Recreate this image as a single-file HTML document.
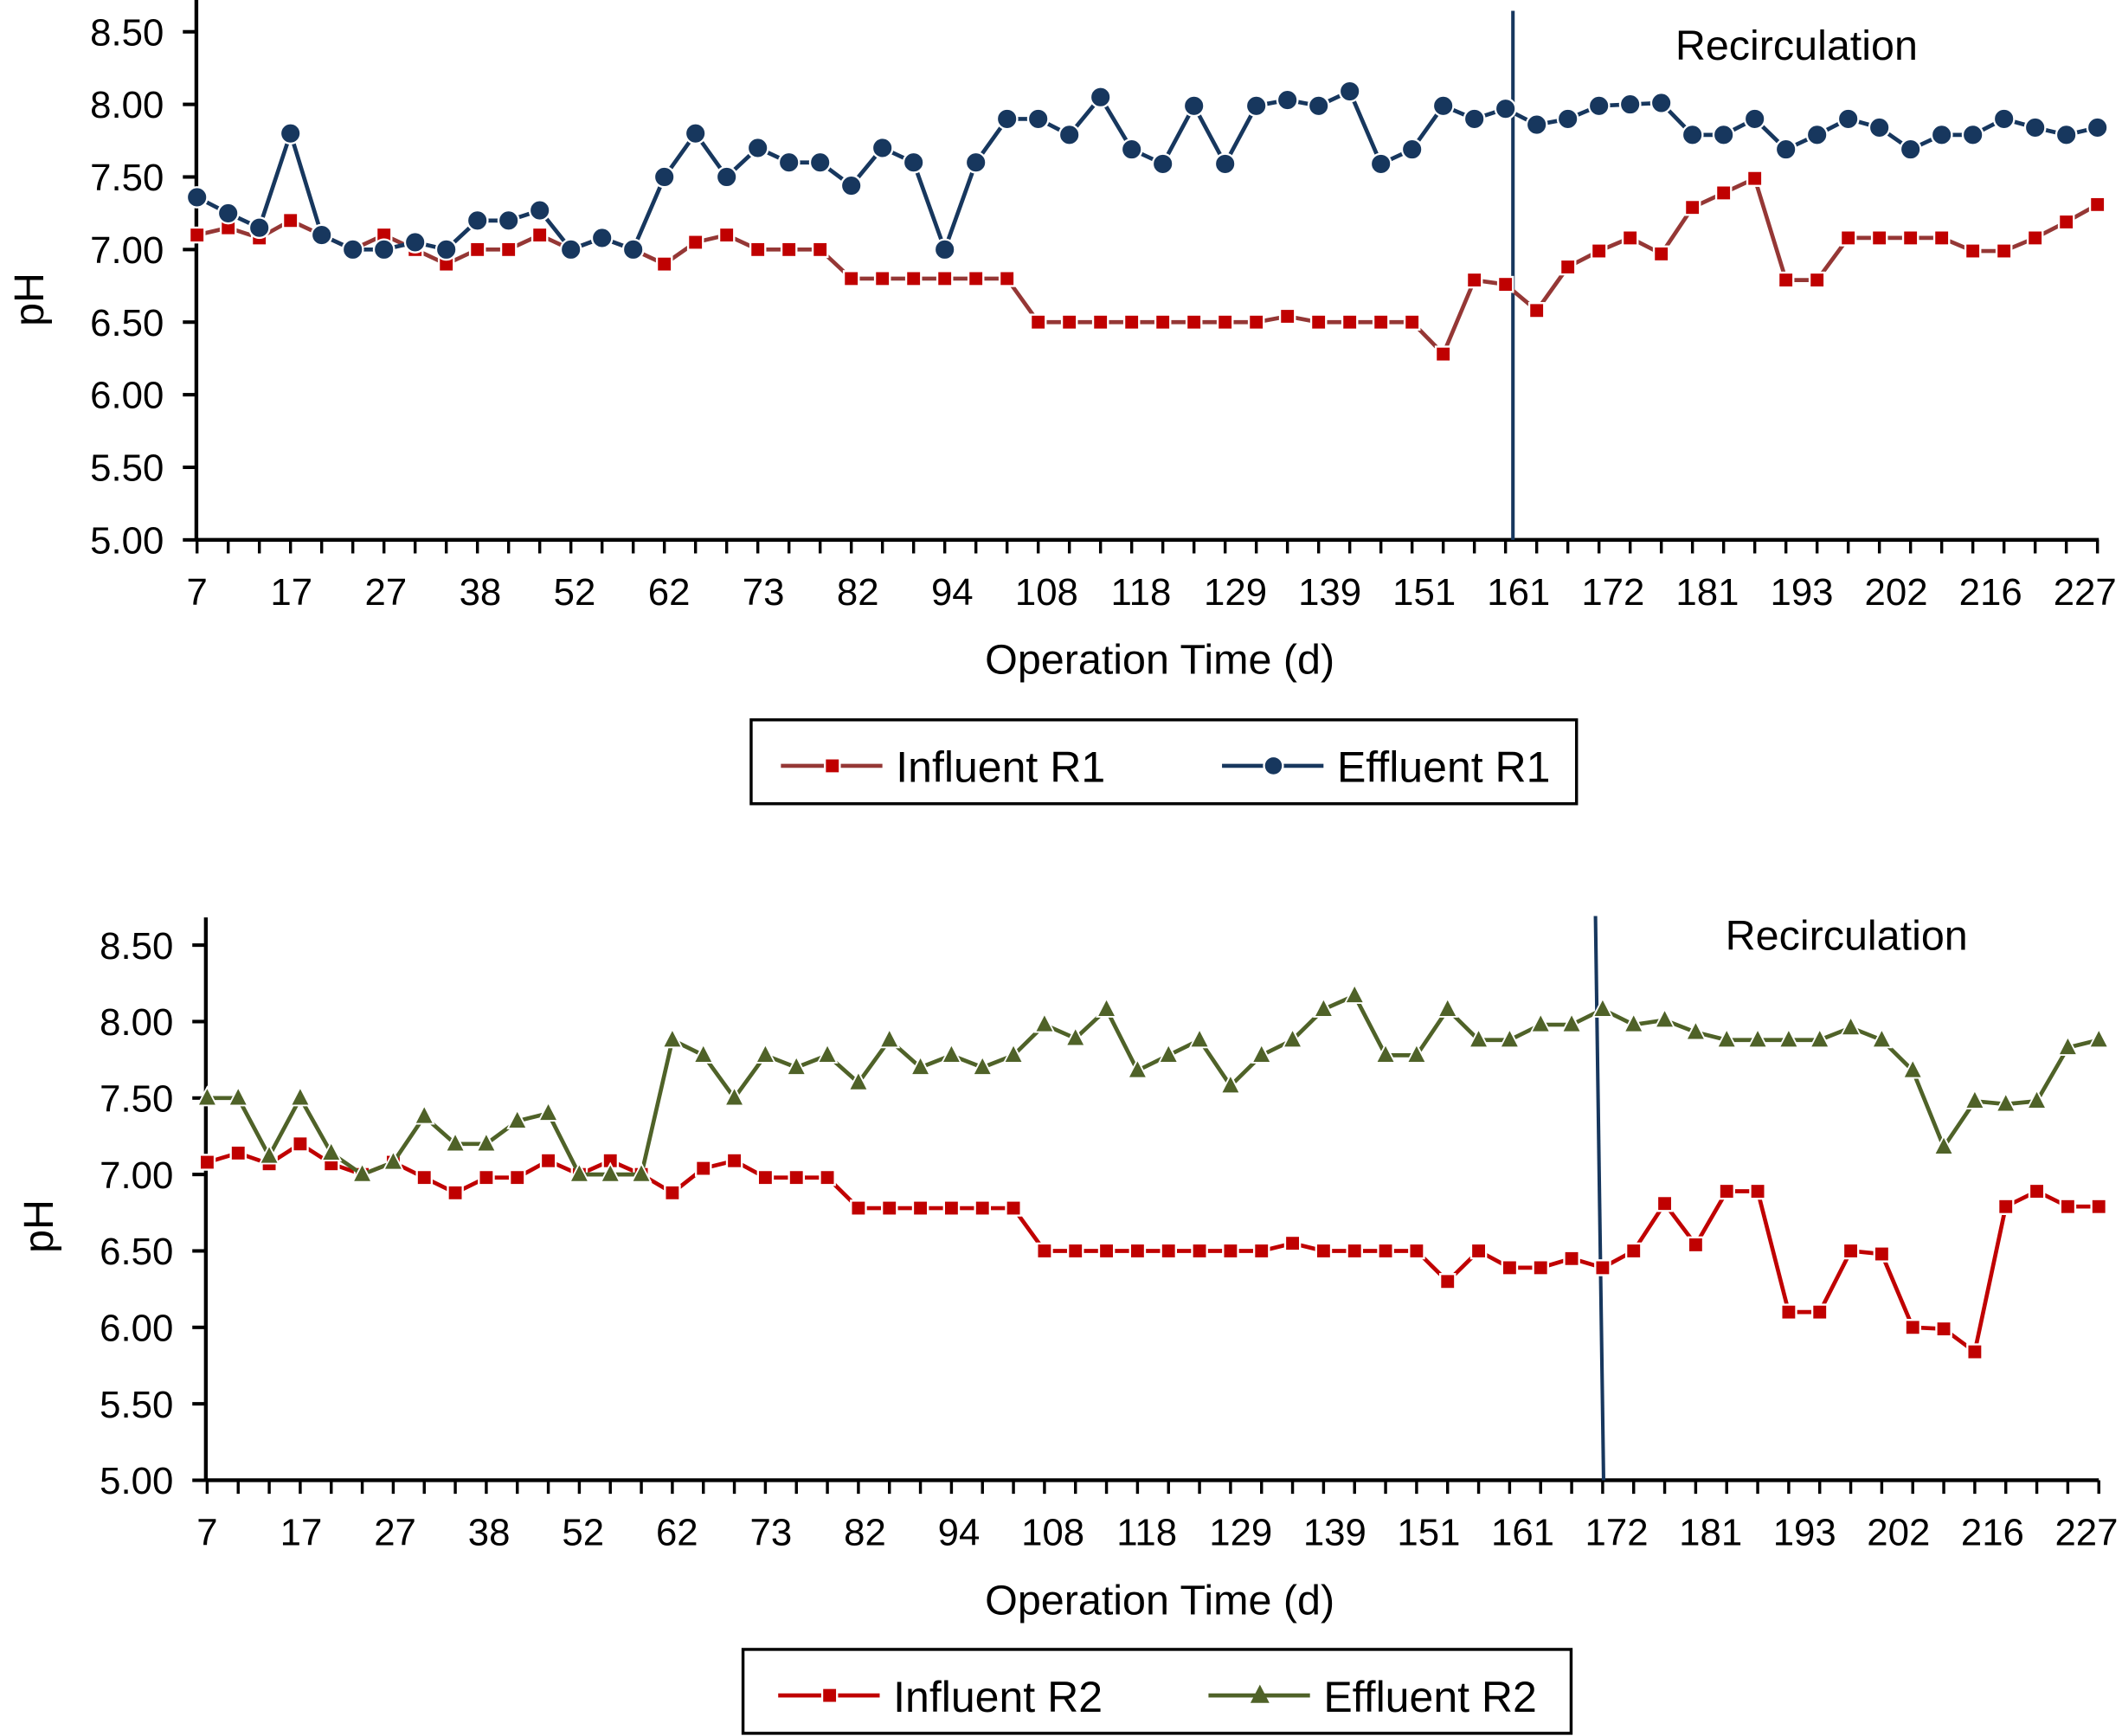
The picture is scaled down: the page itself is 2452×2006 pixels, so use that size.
<!DOCTYPE html>
<html><head><meta charset="utf-8"><style>
html,body{margin:0;padding:0;background:#fff;}
svg{display:block;}
text{font-family:"Liberation Sans",Arial,sans-serif;fill:#000;}
</style></head><body>
<svg id="chart" width="2452" height="2006" viewBox="0 0 1568 1283" xmlns="http://www.w3.org/2000/svg">
</svg>
<script>
const categories = [7,17,27,38,52,62,73,82,94,108,118,129,139,151,161,172,181,193,202,216,227];
const yTicks = [5.0,5.5,6.0,6.5,7.0,7.5,8.0,8.5];
const influentR1 = [7.1,7.15,7.08,7.2,7.1,7.0,7.1,7.0,6.9,7.0,7.0,7.1,7.0,7.08,7.0,6.9,7.05,7.1,7.0,7.0,7.0,6.8,6.8,6.8,6.8,6.8,6.8,6.5,6.5,6.5,6.5,6.5,6.5,6.5,6.5,6.54,6.5,6.5,6.5,6.5,6.28,6.79,6.76,6.58,6.88,6.99,7.08,6.97,7.29,7.39,7.49,6.79,6.79,7.08,7.08,7.08,7.08,6.99,6.99,7.08,7.19,7.31];
const effluentR1 = [7.36,7.25,7.15,7.8,7.1,7.0,7.0,7.05,7.0,7.2,7.2,7.27,7.0,7.08,7.0,7.5,7.8,7.5,7.7,7.6,7.6,7.44,7.7,7.6,7.0,7.6,7.9,7.9,7.79,8.05,7.69,7.59,7.99,7.59,7.99,8.03,7.99,8.09,7.59,7.69,7.99,7.9,7.97,7.86,7.9,7.99,8.0,8.01,7.79,7.79,7.9,7.69,7.79,7.9,7.84,7.69,7.79,7.79,7.9,7.84,7.79,7.84];
const influentR2 = [7.08,7.14,7.07,7.2,7.07,7.0,7.08,6.98,6.88,6.98,6.98,7.09,7.0,7.09,7.0,6.88,7.04,7.09,6.98,6.98,6.98,6.78,6.78,6.78,6.78,6.78,6.78,6.5,6.5,6.5,6.5,6.5,6.5,6.5,6.5,6.55,6.5,6.5,6.5,6.5,6.3,6.5,6.39,6.39,6.45,6.39,6.5,6.81,6.54,6.89,6.89,6.1,6.1,6.5,6.48,6.0,5.99,5.84,6.79,6.89,6.79,6.79];
const effluentR2 = [7.5,7.5,7.12,7.5,7.14,7.0,7.08,7.38,7.2,7.2,7.35,7.4,7.0,7.0,7.0,7.88,7.78,7.5,7.78,7.7,7.78,7.6,7.88,7.7,7.78,7.7,7.78,7.98,7.89,8.08,7.68,7.78,7.88,7.58,7.78,7.88,8.08,8.17,7.78,7.78,8.08,7.88,7.88,7.98,7.98,8.08,7.98,8.01,7.93,7.88,7.88,7.88,7.88,7.96,7.88,7.68,7.18,7.48,7.46,7.48,7.83,7.88];

const NS='http://www.w3.org/2000/svg';
const svg=document.getElementById('chart');
function el(tag,attrs,parent){const e=document.createElementNS(NS,tag);for(const k in attrs)e.setAttribute(k,attrs[k]);(parent||svg).appendChild(e);return e;}

function drawPanel(p){
  const g=el('g',{});
  
  
  const n=p.s1.length;
  const xs=i=>p.x0+i*(p.x1-p.x0)/(n-1);
  const ys=v=>p.yb+(v-5)*(p.yt-p.yb)/3.5;
  const ya=el('line',{x1:p.ax,y1:p.axTop,x2:p.ax,y2:p.yb,stroke:'#000','stroke-width':2.8},g);
  
  
  yTicks.forEach(t=>{
    el('line',{x1:p.ax-10,y1:ys(t),x2:p.ax,y2:ys(t),stroke:'#000','stroke-width':2.6},g);
    const tl=el('text',{x:p.ax-24,y:ys(t)+10,'text-anchor':'end','font-size':28},g);
    tl.textContent=t.toFixed(2);
    
    
  });
  const xa=el('line',{x1:p.ax,y1:p.yb,x2:p.axRight,y2:p.yb,stroke:'#000','stroke-width':2.8},g);
  
  
  for(let i=0;i<n;i++){el('line',{x1:xs(i),y1:p.yb,x2:xs(i),y2:p.yb+10,stroke:'#000','stroke-width':2.2},g);}
  categories.forEach((c,k)=>{
    const i=k*3;
    const tl=el('text',{x:xs(i)+i*0.23,y:p.yb+48,'text-anchor':'middle','font-size':28},g);
    tl.textContent=c;
    
    
  });
  const yt=el('text',{x:0,y:0,'text-anchor':'middle','font-size':31,transform:`translate(${p.ax-113},${(p.yt+p.yb)/2+10}) rotate(-90)`},g);
  yt.textContent='pH';
  
  
  const xt=el('text',{x:857,y:p.yb+99,'text-anchor':'middle','font-size':31},g);
  xt.textContent='Operation Time (d)';
  
  
  const vl=el('line',{x1:p.vx1,y1:p.vy1,x2:p.vx2,y2:p.yb,stroke:'#17375E','stroke-width':2.6},g);
  
  
  const rt=el('text',{x:p.rx,y:p.ry,'font-size':31},g);
  rt.textContent='Recirculation';
  
  
  function series(data,lineCol,markCol,shape,name){
    const sg=el('g',{},g);
    
    
    const pts=data.map((v,i)=>xs(i).toFixed(1)+','+ys(v).toFixed(1)).join(' ');
    el('polyline',{points:pts,fill:'none',stroke:lineCol,'stroke-width':3},sg);
    data.forEach((v,i)=>{
      const x=xs(i),y=ys(v);let m;
      if(shape==='sq') m=el('rect',{x:x-5.5,y:y-5.5,width:11,height:11,fill:markCol,stroke:'#fff','stroke-width':1.5},sg);
      else if(shape==='ci') m=el('circle',{cx:x,cy:y,r:7.5,fill:markCol,stroke:'#fff','stroke-width':1.5},sg);
      else m=el('polygon',{points:`${x},${y-8} ${x-7},${y+5.5} ${x+7},${y+5.5}`,fill:markCol,stroke:'#fff','stroke-width':1.2},sg);
      
      
    });
  }
  series(p.s1,p.c1,p.m1,'sq',p.n1);
  series(p.s2,p.c2,p.m2,p.shape2,p.n2);
  const lg=el('g',{},g);
  
  
  el('rect',{x:p.lx,y:p.ly,width:p.lw,height:62,fill:'#fff',stroke:'#000','stroke-width':2.2},lg);
  [[p.l1,p.c1,p.m1,'sq',p.t1],[p.l2,p.c2,p.m2,p.shape2,p.t2]].forEach(([x,lc,mc,sh,txt])=>{
    const cy=p.ly+34;
    el('line',{x1:x,y1:cy,x2:x+75,y2:cy,stroke:lc,'stroke-width':3},lg);
    const mx=x+38;
    if(sh==='sq') el('rect',{x:mx-5.5,y:cy-5.5,width:11,height:11,fill:mc,stroke:'#fff','stroke-width':1.5},lg);
    else if(sh==='ci') el('circle',{cx:mx,cy:cy,r:7,fill:mc,stroke:'#fff','stroke-width':1.5},lg);
    else el('polygon',{points:`${mx},${cy-8} ${mx-7},${cy+5.5} ${mx+7},${cy+5.5}`,fill:mc},lg);
    const t=el('text',{x:x+85,y:cy+12,'font-size':32},lg);
    t.textContent=txt;
    
    
  });
}
drawPanel({name:'top-chart',x0:145.5,x1:1550,ax:145,axTop:0,axRight:1551,yb:399,yt:23.5,
  s1:influentR1,s2:effluentR1,c1:'#953735',m1:'#C00000',c2:'#17375E',m2:'#17375E',shape2:'ci',
  n1:'influent-r1-series',n2:'effluent-r1-series',vx1:1118,vy1:8,vx2:1118,rx:1238,ry:44,
  lx:555,ly:532,lw:610,l1:577,l2:903,t1:'Influent R1',t2:'Effluent R1'});
drawPanel({name:'bottom-chart',x0:153,x1:1551,ax:152,axTop:678,axRight:1551,yb:1094,yt:698.5,
  s1:influentR2,s2:effluentR2,c1:'#C00000',m1:'#C00000',c2:'#4F6228',m2:'#4F6228',shape2:'tr',
  n1:'influent-r2-series',n2:'effluent-r2-series',vx1:1179,vy1:677,vx2:1185,rx:1275,ry:702,
  lx:549,ly:1219,lw:612,l1:575,l2:893,t1:'Influent R2',t2:'Effluent R2'});
</script>
</body></html>
